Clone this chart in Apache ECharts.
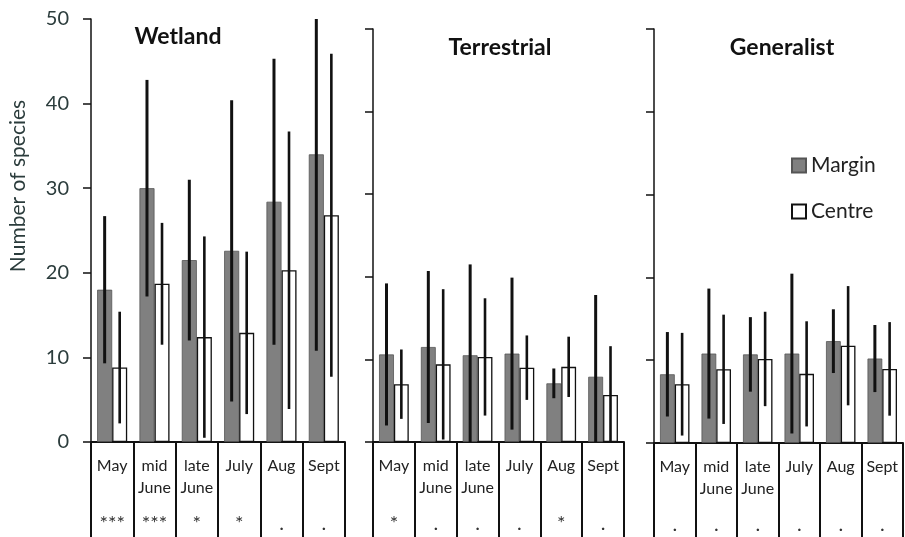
<!DOCTYPE html>
<html>
<head>
<meta charset="utf-8">
<script src="https://cdn.jsdelivr.net/npm/echarts@6/dist/echarts.min.js"></script>
<style>
  html, body { margin: 0; padding: 0; background: #fff; }
  #chart { width: 905px; height: 537px; }
</style>
</head>
<body>
<div id="chart"></div>
<script>
// Sampling periods and mean species counts (± error) per habitat group
const months = ['May', 'mid\nJune', 'late\nJune', 'July', 'Aug', 'Sept'];
const yTicks = [0, 10, 20, 30, 40, 50];

const wetlandMargin    = [18.0, 30.0, 21.5, 22.6, 28.4, 34.0];
const wetlandMarginErr = [8.7, 12.8, 9.5, 17.8, 16.9, 23.2];
const wetlandCentre    = [8.8, 18.7, 12.4, 12.9, 20.3, 26.8];
const wetlandCentreErr = [6.6, 7.2, 11.9, 9.6, 16.4, 19.1];

const terrMargin    = [10.6, 11.5, 10.5, 10.7, 7.1, 7.9];
const terrMarginErr = [8.6, 9.2, 11.0, 9.2, 1.8, 9.9];
const terrCentre    = [7.0, 9.4, 10.3, 9.0, 9.1, 5.7];
const terrCentreErr = [4.2, 9.1, 7.1, 3.9, 3.65, 5.9];

const genMargin    = [8.3, 10.8, 10.7, 10.8, 12.3, 10.2];
const genMarginErr = [5.1, 7.85, 4.5, 9.65, 3.85, 4.05];
const genCentre    = [7.1, 8.9, 10.15, 8.35, 11.75, 8.95];
const genCentreErr = [6.2, 6.6, 5.7, 6.35, 7.2, 5.65];

const wetlandSig = ['***', '***', '*', '*', '.', '.'];
const terrSig    = ['*', '.', '.', '.', '*', '.'];
const genSig     = ['.', '.', '.', '.', '.', '.'];

const panelTitles = ['Wetland', 'Terrestrial', 'Generalist'];

const FONT = 'Lato, "Open Sans", sans-serif';
const Y_MAX = yTicks[yTicks.length - 1];
const CAT_GAP = 0.29;

const panels = [
  { margin: wetlandMargin, marginErr: wetlandMarginErr, centre: wetlandCentre, centreErr: wetlandCentreErr, sig: wetlandSig },
  { margin: terrMargin, marginErr: terrMarginErr, centre: terrCentre, centreErr: terrCentreErr, sig: terrSig },
  { margin: genMargin, marginErr: genMarginErr, centre: genCentre, centreErr: genCentreErr, sig: genSig }
];

const grids = [
  { left: 91, top: 19, width: 254, height: 423, outerBoundsMode: 'none' },
  { left: 373, top: 29, width: 251, height: 413, outerBoundsMode: 'none' },
  { left: 654, top: 29, width: 249, height: 414, outerBoundsMode: 'none' }
];

function errorRenderer(side, width) {
  return function (params, api) {
    const x = api.value(0), v = api.value(1), e = api.value(2);
    const hi = Math.min(v + e, Y_MAX);
    const lo = Math.max(v - e, 0);
    const top = api.coord([x, hi]);
    const bot = api.coord([x, lo]);
    const band = api.size([1, 0])[0];
    const off = side * band * (1 - CAT_GAP) / 4;
    return {
      type: 'line',
      shape: { x1: top[0] + off, y1: top[1], x2: bot[0] + off, y2: bot[1] },
      style: { stroke: '#111', lineWidth: width }
    };
  };
}

const xAxes = [], yAxes = [], series = [];
panels.forEach(function (p, k) {
  xAxes.push({
    type: 'category',
    gridIndex: k,
    data: months.map(function (m, i) {
      const lines = m.split('\n');
      return lines[0] + '\n' + (lines[1] || ' ') + '\n{s|' + p.sig[i] + '}';
    }),
    axisLine: { lineStyle: { color: '#111', width: 2 } },
    axisTick: { show: true, interval: 0, length: 96, lineStyle: { color: '#111', width: 2 } },
    axisLabel: {
      interval: 0,
      margin: 13,
      color: '#222',
      fontFamily: FONT,
      fontSize: 16,
      lineHeight: 22,
      rich: { s: { fontFamily: FONT, fontSize: 20, lineHeight: 50, color: '#333' } }
    },
    splitLine: { show: false }
  });
  yAxes.push({
    type: 'value',
    gridIndex: k,
    min: 0,
    max: Y_MAX,
    interval: 10,
    axisLine: { show: true, lineStyle: { color: '#111', width: 1.5 } },
    axisTick: { show: true, length: 8, lineStyle: { color: '#111', width: 1.5 } },
    axisLabel: { show: k === 0, color: '#2b3c3c', fontFamily: FONT, fontSize: 20, margin: 22 },
    splitLine: { show: false }
  });
  series.push({
    name: 'Margin', type: 'bar', xAxisIndex: k, yAxisIndex: k,
    barGap: '0%', barCategoryGap: (CAT_GAP * 100) + '%',
    itemStyle: { color: '#808080', borderColor: '#555', borderWidth: 0.8 },
    data: p.margin
  });
  series.push({
    name: 'Centre', type: 'bar', xAxisIndex: k, yAxisIndex: k,
    barGap: '0%', barCategoryGap: (CAT_GAP * 100) + '%',
    itemStyle: { color: '#ffffff', borderColor: '#111', borderWidth: 1.3 },
    data: p.centre
  });
  series.push({
    name: 'Margin error', type: 'custom', xAxisIndex: k, yAxisIndex: k, z: 5,
    renderItem: errorRenderer(-1, 3),
    data: p.margin.map(function (v, i) { return [i, v, p.marginErr[i]]; })
  });
  series.push({
    name: 'Centre error', type: 'custom', xAxisIndex: k, yAxisIndex: k, z: 5,
    renderItem: errorRenderer(1, 2.6),
    data: p.centre.map(function (v, i) { return [i, v, p.centreErr[i]]; })
  });
});

const titlePos = [[178, 37], [500, 48], [782, 48]];

const chart = echarts.init(document.getElementById('chart'), null, { renderer: 'canvas' });
chart.setOption({
  animation: false,
  backgroundColor: '#ffffff',
  grid: grids,
  xAxis: xAxes,
  yAxis: yAxes,
  series: series,
  legend: {
    data: ['Margin', 'Centre'],
    orient: 'vertical',
    left: 786,
    top: 150,
    itemWidth: 14,
    itemHeight: 14,
    itemGap: 25,
    icon: 'rect',
    textStyle: { fontFamily: FONT, fontSize: 21, color: '#222' }
  },
  graphic: titlePos.map(function (pos, i) {
    return {
      type: 'text', x: pos[0], y: pos[1],
      style: { text: panelTitles[i], fontFamily: FONT, fontWeight: 'bold', fontSize: 23, fill: '#111', textAlign: 'center', textVerticalAlign: 'middle' }
    };
  }).concat([{
    type: 'text', x: 18, y: 186, rotation: Math.PI / 2,
    style: { text: 'Number of species', fontFamily: FONT, fontSize: 21, fill: '#2b3c3c', textAlign: 'center', textVerticalAlign: 'middle' }
  }])
});
</script>
</body>
</html>
